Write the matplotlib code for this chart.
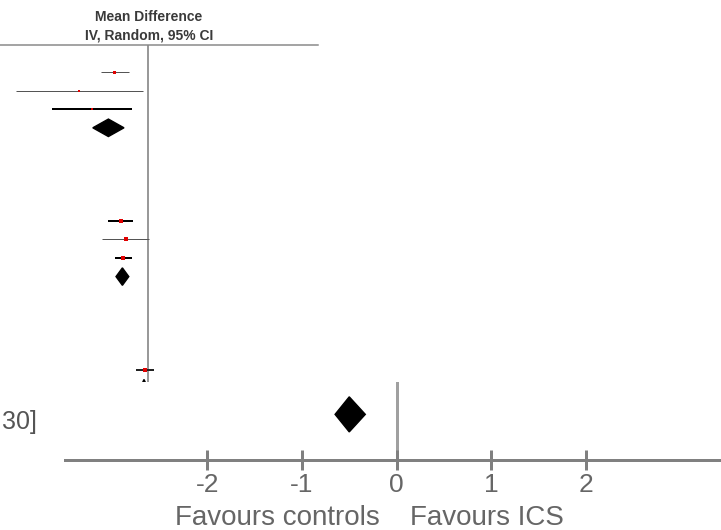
import numpy as np
import matplotlib.pyplot as plt
from matplotlib.patches import Polygon

# study rows (upper panel), mean difference with 95% CI
study_rows = [0, 1, 2, 8, 9, 10, 16]
study_md = [-0.85, -1.73, -1.40, -0.68, -0.55, -0.62, -0.08]
study_lo = [-1.18, -3.30, -2.40, -1.00, -1.15, -0.83, -0.30]
study_hi = [-0.48, -0.13, -0.40, -0.38, 0.02, -0.40, 0.15]

# subgroup totals (diamonds)
sub_rows = [3, 11, 17]
sub_md = [-0.99, -0.64, -0.10]
sub_lo = [-1.38, -0.80, -0.20]
sub_hi = [-0.60, -0.48, 0.00]

# overall total (lower panel)
total_md = -0.50
total_lo = -0.65
total_hi = -0.33
total_label = "30]"   # only the tail of the CI text is visible

ticks = [-2, -1, 0, 1, 2]
left_label = "Favours controls"
right_label = "Favours ICS"

# styles
box_size = [3, 2.5, 2.5, 5, 4, 5, 5]
ci_width = [1.0, 1.0, 2.0, 2.0, 1.0, 2.0, 2.0]
ci_color = ['#555555', '#555555', 'black', 'black', '#555555', 'black', '#222222']

W, H = 721, 530
fig = plt.figure(figsize=(W / 100, H / 100), dpi=100)
px = 0.72  # points per pixel

# ---- upper panel
ax = fig.add_axes([0, (H - 382) / H, 1, (382 - 45) / H])
scale = 40.0
ax.set_xlim(-148 / scale, (W - 148) / scale)
ax.set_ylim((382 - 72) / 18.6, (45 - 72) / 18.6)
ax.axis('off')
ax.axvline(0, color='#999999', lw=2 * px, zorder=1)
ax.axhline((45 - 72) / 18.6, xmin=0, xmax=318 / W, color='#888888',
           lw=1.5 * px, clip_on=False)

for r, m, lo, hi, s, w, c in zip(study_rows, study_md, study_lo, study_hi,
                                 box_size, ci_width, ci_color):
    ax.plot([lo, hi], [r, r], color=c, lw=w * px, zorder=2, solid_capstyle='butt')
    ax.plot(m, r, 's', color='#e00000', ms=s * px, mew=0, zorder=3)

for r, m, lo, hi in zip(sub_rows, sub_md, sub_lo, sub_hi):
    d = 0.47
    ax.add_patch(Polygon([[lo, r], [m, r - d], [hi, r], [m, r + d]],
                         closed=True, color='black', zorder=3))

fig.text(149 / W, 1 - 17 / H, "Mean Difference", ha='center', va='center',
         fontsize=10, fontweight='bold', color='#3a3a3a', family='Liberation Sans')
fig.text(149 / W, 1 - 35 / H, "IV, Random, 95% CI", ha='center', va='center',
         fontsize=10, fontweight='bold', color='#3a3a3a', family='Liberation Sans')

# ---- lower panel
bx = fig.add_axes([65 / W, (H - 460) / H, (W - 65) / W, (460 - 382) / H])
bscale = 94.5
bx.set_xlim((65 - 396.5) / bscale, (W - 396.5) / bscale)
bx.set_ylim(0, 1)
for s in ['top', 'left', 'right']:
    bx.spines[s].set_visible(False)
bx.spines['bottom'].set_color('#808080')
bx.spines['bottom'].set_linewidth(3 * px)
bx.set_yticks([])
bx.set_xticks(ticks)
bx.set_xticklabels([str(t) for t in ticks], fontsize=19, color='#666666',
                   family='Liberation Sans')
bx.tick_params(axis='x', direction='inout', length=20 * px, width=3 * px,
               color='#808080', pad=2)
bx.axvline(0, color='#a0a0a0', lw=3 * px, zorder=1)
yc, d = 0.585, 0.225
bx.add_patch(Polygon([[total_lo, yc], [total_md, yc + d], [total_hi, yc],
                      [total_md, yc - d]], closed=True, color='black', zorder=3))

fig.text(37 / W, 1 - 429 / H, total_label, ha='right', va='baseline',
         fontsize=18, color='#555555', family='Liberation Sans')
fig.text(380 / W, 1 - 525 / H, left_label, ha='right', va='baseline',
         fontsize=20, color='#666666', family='Liberation Sans')
fig.text(410 / W, 1 - 525 / H, right_label, ha='left', va='baseline',
         fontsize=20, color='#666666', family='Liberation Sans')

fig.savefig('out.png', dpi=100)
